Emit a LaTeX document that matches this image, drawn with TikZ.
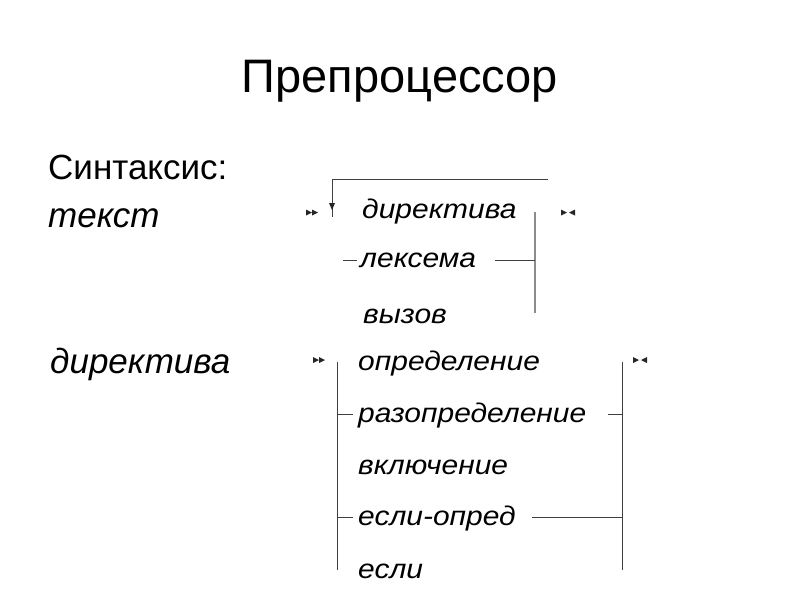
\documentclass[tikz,border=0pt]{standalone}
\usepackage{fontspec}
\usepackage{graphicx}
\setmainfont{Liberation Sans}
\newcommand\dlab[1]{\scalebox{1.11}[1]{#1}}
\begin{document}
\begin{tikzpicture}[x=1pt,y=-1pt,
  title/.style={anchor=base,inner sep=0pt,font=\fontsize{47}{47}\selectfont},
  head/.style={anchor=base west,inner sep=0pt,font=\fontsize{35}{35}\selectfont},
  rule/.style={anchor=base west,inner sep=0pt,font=\itshape\fontsize{35}{35}\selectfont},
  lbl/.style={anchor=base west,inner sep=0pt,font=\itshape\fontsize{27}{27}\selectfont},
  rail/.style={draw=black!75,line width=1pt},
  grayrail/.style={draw=black!45,line width=1.2pt},
  startmark/.pic={\fill[black!85] (0,-3) -- (6,0) -- (0,3) -- cycle;
                  \fill[black!85] (6,-3) -- (12,0) -- (6,3) -- cycle;},
  endmark/.pic={\fill[black!85] (0,-3) -- (6,0) -- (0,3) -- cycle;
                \fill[black!85] (14,-3) -- (8,0) -- (14,3) -- cycle;}]
\useasboundingbox (0,0) rectangle (800,600);

% title and headings
\node[title] (t) at (400,92) {Препроцессор};
\node[head] (syn) at (48,179) {Синтаксис:};
\node[rule] (r1) at (48,227) {текст};
\node[rule] (r2) at (50,373) {директива};

% ---------- diagram 1: текст ----------
\pic at (306,212.5) {startmark};
\pic at (561,212.5) {endmark};
\node[lbl] (a1) at (362,218) {\dlab{директива}};
\node[lbl] (a2) at (360,267) {\dlab{лексема}};
\node[lbl] (a3) at (363,323) {\dlab{вызов}};

\coordinate (loopR) at (548,179);
\coordinate (loopL) at (332,179);
\coordinate (loopE) at (332,210);
\draw[rail] (loopR) -- (loopL) -- ([yshift=-7]loopE);
\fill[black!85] (loopE) -- ++(-3,-7) -- ++(6,0) -- cycle;

\coordinate (vTop) at (535,212);
\coordinate (vBot) at (535,313);
\draw[grayrail] (vTop) -- (vBot);
\coordinate (lxL) at (343,260);
\coordinate (lxLe) at (357,260);
\coordinate (lxR) at (495,260);
\draw[rail] (lxL) -- (lxLe);
\draw[rail] (lxR) -- (vTop |- lxR);

% ---------- diagram 2: директива ----------
\pic at (313,360) {startmark};
\pic at (633,360) {endmark};
\node[lbl] (b1) at (358,370) {\dlab{определение}};
\node[lbl] (b2) at (358,422) {\dlab{разопределение}};
\node[lbl] (b3) at (358,474) {\dlab{включение}};
\node[lbl] (b4) at (358,525) {\dlab{если-опред}};
\node[lbl] (b5) at (358,578) {\dlab{если}};

\coordinate (lTop) at (337,362);
\coordinate (lBot) at (337,570);
\coordinate (rTop) at (622,362);
\coordinate (rBot) at (622,570);
\draw[rail] (lTop) -- (lBot);
\draw[rail] (rTop) -- (rBot);
\coordinate (s1) at (353,414);
\coordinate (s2) at (608,414);
\coordinate (s3) at (353,517);
\coordinate (s4) at (532,517);
\draw[rail] (lTop |- s1) -- (s1);
\draw[rail] (s2) -- (rTop |- s2);
\draw[rail] (lTop |- s3) -- (s3);
\draw[rail] (s4) -- (rTop |- s4);
\end{tikzpicture}
\end{document}
